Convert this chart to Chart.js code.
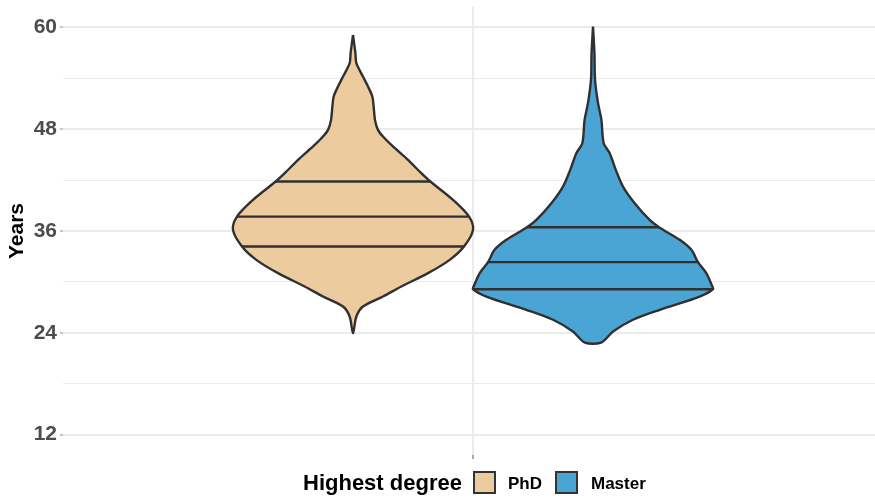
<!DOCTYPE html>
<html>
<head>
<meta charset="utf-8">
<title>Years by highest degree</title>
<script src="https://cdn.jsdelivr.net/npm/chart.js@4/dist/chart.umd.min.js"></script>
<style>
  html, body { margin: 0; padding: 0; background: #ffffff; }
  #wrap { position: relative; width: 875px; height: 500px; font-family: "Liberation Sans", Arial, sans-serif; }
  #chart { position: absolute; left: 0; top: 0; }
  .lg { position: absolute; font-weight: bold; color: #000000; white-space: nowrap; }
  .lg-title { font-size: 22px; line-height: 22px; }
  .lg-label { font-size: 17px; line-height: 17px; }
  .lg-box { position: absolute; width: 23px; height: 23px; box-sizing: border-box; border: 2px solid #333333; }
</style>
</head>
<body>
<div id="wrap">
  <canvas id="chart" width="875" height="500"></canvas>
  <span class="lg lg-title" style="left:303px; top:472px;">Highest degree</span>
  <div class="lg-box" id="box0" style="left:473px; top:471px;"></div>
  <span class="lg lg-label" style="left:508px; top:474.5px;">PhD</span>
  <div class="lg-box" id="box1" style="left:555px; top:471px;"></div>
  <span class="lg lg-label" style="left:591px; top:474.5px;">Master</span>
</div>
<script>
// Groups and their colours
const groups = ['PhD', 'Master'];
const groupFill = ['#ECCB9E', '#4BA5D4'];

// PhD: years (top to bottom) and density half-width at each year (1 = widest)
const phdYears = [59.1, 56.96, 55.78, 54.2, 53.03, 51.85, 50.67, 49.1, 47.92, 47.13, 45.96, 44.38,
                  42.81, 41.83, 39.67, 37.7, 36.13, 34.17, 32.6, 31.03, 29.46, 28.28, 27.1, 25.92, 23.96];
const phdWidth = [0, 0.02, 0.028, 0.083, 0.125, 0.161, 0.172, 0.183, 0.208, 0.25, 0.333, 0.458,
                  0.569, 0.644, 0.833, 0.967, 1.0, 0.925, 0.806, 0.625, 0.403, 0.25, 0.083, 0.028, 0];
const phdQuartiles = [41.83, 37.7, 34.17];

// Master: years (top to bottom) and density half-width at each year
const masterYears = [60.1, 56.96, 53.8, 51.07, 49.1, 46.35, 45.17, 43.2, 41.24, 39.28, 37.31, 36.45,
                     34.96, 33.78, 32.33, 31.03, 29.6, 29.14, 28.27, 26.71, 25.54, 24.15, 22.85];
const masterWidth = [0, 0.012, 0.017, 0.042, 0.07, 0.089, 0.139, 0.19, 0.25, 0.347, 0.472, 0.55,
                     0.722, 0.82, 0.875, 0.944, 0.99, 1.0, 0.889, 0.556, 0.333, 0.167, 0.067];
const masterQuartiles = [36.45, 32.33, 29.14];

// Y axis ticks: labelled and minor
const yLabelTicks = [12, 24, 36, 48, 60];
const yMinorTicks = [18, 30, 42, 54];

const violins = [
  { years: phdYears, width: phdWidth, quartiles: phdQuartiles, center: -1 },
  { years: masterYears, width: masterWidth, quartiles: masterQuartiles, center: 1 }
];

document.getElementById('box0').style.background = groupFill[0];
document.getElementById('box1').style.background = groupFill[1];

const OUTLINE = '#303030';
const STROKE = 2.4;
const datasets = [];

// Quartile lines go first so they are drawn above the violin bodies
violins.forEach((v) => {
  v.quartiles.forEach((q) => {
    const w = v.width[v.years.indexOf(q)];
    datasets.push({
      data: [{ x: v.center - w, y: q }, { x: v.center + w, y: q }],
      showLine: true,
      borderColor: OUTLINE,
      borderWidth: STROKE,
      pointRadius: 0,
      tension: 0,
      fill: false
    });
  });
});

// Violin bodies: right side downwards, left side back up, closed at the top
violins.forEach((v, gi) => {
  const pts = [];
  const n = v.years.length;
  for (let i = 0; i < n; i++) pts.push({ x: v.center + v.width[i], y: v.years[i] });
  for (let i = n - 1; i >= 1; i--) {
    if (i === n - 1 && v.width[i] === 0) continue;
    pts.push({ x: v.center - v.width[i], y: v.years[i] });
  }
  pts.push({ x: v.center, y: v.years[0] });
  datasets.push({
    label: groups[gi],
    data: pts,
    showLine: true,
    borderColor: OUTLINE,
    borderWidth: STROKE,
    borderJoinStyle: 'round',
    backgroundColor: groupFill[gi],
    fill: 'shape',
    pointRadius: 0,
    tension: 0.3
  });
});

const FONT = '"Liberation Sans", Arial, sans-serif';

new Chart(document.getElementById('chart'), {
  type: 'scatter',
  data: { datasets },
  options: {
    responsive: false,
    animation: false,
    devicePixelRatio: 1,
    layout: { padding: { top: 7, right: 0, bottom: 0, left: 0 } },
    plugins: {
      legend: { display: false },
      tooltip: { enabled: false }
    },
    scales: {
      x: {
        type: 'linear',
        min: -3.4167,
        max: 3.35,
        afterBuildTicks: (s) => { s.ticks = [{ value: 0 }]; },
        afterFit: (s) => { s.height = 45; s.paddingLeft = 0; s.paddingRight = 0; },
        ticks: { callback: () => '', font: { family: FONT, size: 10 } },
        grid: {
          color: '#ebebeb',
          lineWidth: 2,
          tickLength: 4,
          tickColor: '#8c8c8c',
          tickWidth: 1.5
        },
        border: { display: false }
      },
      y: {
        type: 'linear',
        min: 9.6,
        max: 62.4,
        afterBuildTicks: (s) => {
          s.ticks = yLabelTicks.concat(yMinorTicks).sort((a, b) => a - b).map((v) => ({ value: v }));
        },
        afterFit: (s) => { s.width = 63; s.paddingTop = 0; s.paddingBottom = 0; },
        ticks: {
          callback: (v) => (yLabelTicks.includes(v) ? String(v) : ''),
          color: '#4d4d4d',
          font: { family: FONT, size: 21, weight: 'bold' },
          padding: 3
        },
        grid: {
          color: '#ebebeb',
          lineWidth: (c) => (c.tick && yLabelTicks.includes(c.tick.value) ? 2 : 1),
          tickLength: 3,
          tickWidth: 1,
          tickColor: (c) => (c.tick && yLabelTicks.includes(c.tick.value) ? '#8c8c8c' : 'rgba(0,0,0,0)')
        },
        border: { display: false },
        title: {
          display: true,
          text: 'Years',
          color: '#000000',
          font: { family: FONT, size: 21, weight: 'bold' },
          padding: { top: 5, bottom: 0 }
        }
      }
    }
  }
});
</script>
</body>
</html>
